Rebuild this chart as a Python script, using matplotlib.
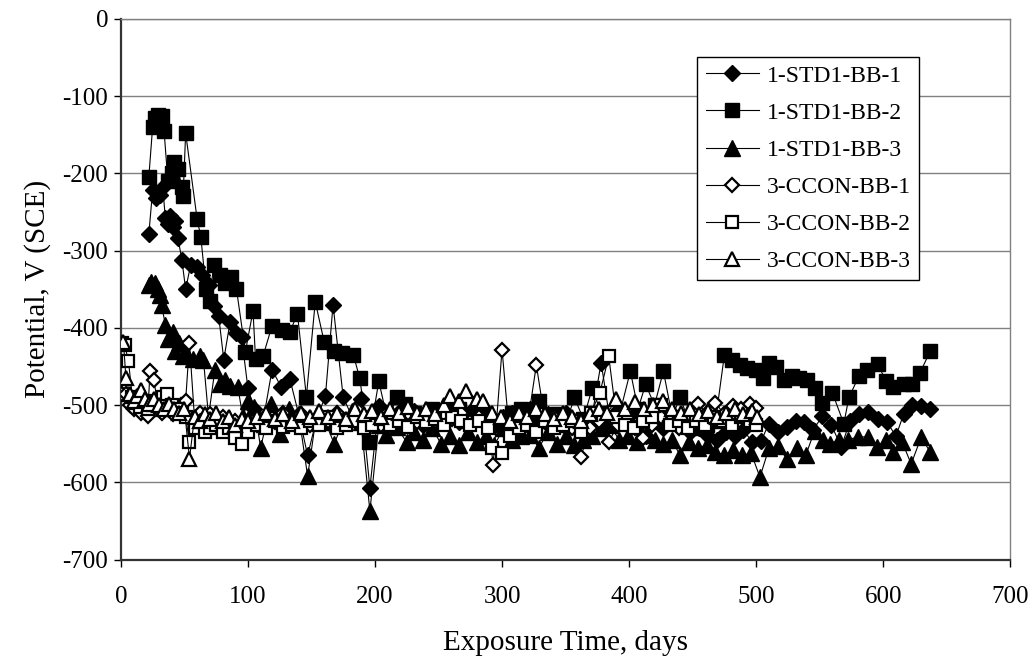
import numpy as np
import matplotlib
matplotlib.use("Agg")
import matplotlib.pyplot as plt

# (day, potential mV)
std1_bb1 = [(22, -279), (25, -222), (28, -232), (31, -228), (33, -218), (35, -258), (37, -265),
            (39, -255), (41, -269), (43, -262), (45, -284), (48, -312), (51, -350), (55, -318),
            (60, -321), (64, -331), (69, -345), (73, -372), (77, -385), (81, -441), (86, -392),
            (91, -407), (95, -412), (100, -478), (105, -505), (112, -520), (119, -454), (126, -476),
            (133, -466), (140, -512), (147, -565), (154, -518), (161, -488), (167, -370), (175, -490),
            (182, -515), (189, -492), (196, -607), (203, -501), (210, -522), (217, -512), (224, -520),
            (231, -508), (238, -525), (245, -515), (252, -520), (259, -505), (266, -522), (273, -512),
            (280, -518), (287, -508), (294, -525), (301, -515), (308, -510), (315, -522), (322, -505),
            (329, -518), (336, -512), (343, -525), (350, -510), (357, -520), (364, -530), (371, -512),
            (378, -445), (385, -520), (392, -505), (399, -515), (406, -528), (413, -540), (420, -520),
            (427, -530), (434, -518), (441, -525), (448, -535), (455, -530), (462, -540), (469, -545),
            (476, -535), (483, -540), (490, -532), (497, -548), (504, -546), (510, -524), (517, -535),
            (524, -528), (531, -520), (538, -522), (545, -532), (552, -514), (559, -525), (567, -554),
            (574, -520), (581, -511), (588, -509), (596, -518), (603, -522), (610, -540), (616, -512),
            (623, -500), (630, -501), (637, -505)]

std1_bb2 = [(22, -205), (25, -140), (27, -128), (29, -125), (32, -126), (34, -145), (37, -210),
            (40, -200), (42, -186), (45, -195), (48, -218), (49, -229), (51, -148), (60, -259),
            (63, -283), (67, -350), (70, -365), (73, -318), (78, -332), (82, -342), (87, -334),
            (91, -350), (98, -431), (104, -378), (106, -440), (112, -436), (119, -397), (127, -403),
            (133, -405), (139, -382), (146, -489), (153, -366), (160, -418), (168, -430), (174, -433),
            (183, -435), (188, -465), (195, -548), (203, -469), (210, -520), (217, -490), (224, -499),
            (231, -510), (238, -515), (245, -505), (252, -515), (259, -510), (266, -505), (273, -520),
            (280, -510), (287, -515), (294, -520), (301, -525), (308, -510), (315, -505), (322, -515),
            (329, -495), (336, -520), (343, -512), (350, -525), (357, -490), (364, -518), (371, -478),
            (378, -510), (385, -520), (392, -515), (401, -456), (407, -505), (413, -473), (420, -500),
            (427, -456), (434, -515), (440, -490), (447, -520), (454, -530), (461, -525), (468, -520),
            (475, -435), (481, -442), (487, -448), (493, -452), (500, -455), (505, -465), (510, -445),
            (516, -450), (522, -468), (528, -462), (534, -465), (540, -467), (546, -478), (552, -497),
            (560, -484), (569, -524), (573, -490), (581, -462), (587, -454), (596, -447), (602, -469),
            (608, -477), (616, -473), (623, -473), (629, -458), (637, -430)]

std1_bb3 = [(22, -345), (24, -340), (27, -342), (29, -350), (31, -357), (32, -370), (35, -396),
            (37, -415), (39, -410), (41, -405), (43, -430), (46, -420), (49, -437), (52, -435),
            (57, -440), (62, -436), (65, -441), (69, -515), (74, -454), (78, -472), (82, -468),
            (86, -475), (92, -476), (96, -515), (100, -495), (105, -502), (110, -555), (118, -498),
            (125, -537), (132, -505), (140, -512), (147, -592), (154, -512), (161, -522), (168, -550),
            (175, -520), (182, -508), (189, -522), (196, -637), (203, -525), (209, -539), (217, -528),
            (225, -548), (231, -535), (238, -545), (245, -530), (252, -550), (259, -540), (266, -552),
            (273, -535), (280, -548), (287, -540), (294, -552), (301, -530), (308, -545), (315, -540),
            (322, -538), (329, -555), (336, -535), (343, -550), (350, -540), (357, -552), (364, -545),
            (371, -540), (378, -530), (385, -525), (392, -545), (399, -540), (406, -548), (413, -538),
            (420, -545), (427, -550), (434, -545), (440, -565), (447, -548), (454, -555), (461, -552),
            (468, -560), (475, -565), (482, -558), (489, -565), (496, -562), (503, -593), (510, -556),
            (517, -553), (524, -569), (532, -556), (539, -565), (546, -533), (553, -545), (558, -550),
            (565, -545), (572, -545), (580, -541), (588, -541), (595, -554), (602, -545), (608, -561),
            (615, -548), (622, -576), (630, -541), (637, -561)]

ccon_bb1 = [(1, -485), (4, -486), (7, -500), (10, -505), (13, -500), (16, -510), (19, -505),
            (21, -514), (23, -456), (26, -467), (29, -500), (32, -510), (35, -505), (38, -498),
            (41, -512), (44, -505), (47, -500), (51, -494), (54, -420), (58, -518), (62, -510),
            (66, -515), (70, -512), (75, -520), (80, -515), (85, -525), (90, -520), (95, -530),
            (100, -520), (107, -525), (114, -515), (121, -522), (128, -510), (135, -520), (142, -512),
            (149, -525), (156, -515), (163, -520), (170, -510), (177, -522), (184, -515), (191, -520),
            (198, -512), (205, -525), (212, -515), (219, -520), (226, -510), (233, -522), (240, -515),
            (247, -520), (254, -512), (261, -518), (268, -510), (275, -522), (282, -515), (289, -520),
            (293, -577), (300, -428), (306, -540), (313, -520), (320, -525), (327, -448), (334, -522),
            (341, -515), (348, -525), (355, -530), (362, -567), (369, -530), (376, -520), (384, -548),
            (391, -525), (398, -515), (405, -530), (411, -543), (418, -525), (425, -515), (432, -520),
            (439, -530), (446, -515), (454, -498), (461, -510), (468, -497), (475, -512), (482, -501),
            (488, -505), (495, -499), (500, -503)]

ccon_bb2 = [(1, -420), (3, -422), (6, -443), (9, -490), (12, -497), (15, -502), (18, -495),
            (21, -505), (25, -500), (29, -495), (33, -490), (36, -486), (40, -500), (44, -505),
            (48, -510), (51, -515), (54, -548), (58, -530), (62, -522), (66, -535), (70, -530),
            (75, -525), (80, -535), (85, -530), (90, -542), (95, -550), (100, -535), (107, -525),
            (114, -530), (121, -520), (128, -528), (135, -525), (142, -530), (149, -520), (156, -525),
            (163, -515), (170, -530), (177, -525), (184, -520), (191, -530), (198, -525), (205, -518),
            (212, -525), (219, -520), (226, -528), (233, -515), (240, -522), (247, -518), (254, -525),
            (261, -515), (268, -520), (275, -525), (282, -520), (289, -530), (292, -556), (300, -562),
            (306, -540), (313, -530), (320, -525), (327, -535), (334, -520), (341, -530), (348, -525),
            (355, -520), (362, -535), (370, -510), (377, -484), (384, -437), (390, -515), (397, -525),
            (404, -530), (411, -520), (418, -515), (425, -500), (432, -525), (439, -520), (446, -530),
            (453, -520), (460, -525), (467, -515), (474, -520), (481, -525), (488, -515), (495, -520),
            (500, -525)]

ccon_bb3 = [(2, -418), (4, -465), (7, -485), (10, -495), (13, -488), (16, -480), (19, -492),
            (22, -498), (26, -492), (30, -500), (34, -505), (38, -498), (42, -505), (46, -510),
            (50, -505), (54, -569), (58, -515), (62, -520), (66, -512), (70, -518), (75, -510),
            (80, -520), (85, -515), (90, -525), (95, -518), (100, -520), (107, -515), (114, -510),
            (121, -518), (128, -512), (135, -520), (142, -510), (149, -515), (156, -508), (163, -515),
            (170, -510), (177, -518), (184, -505), (191, -512), (198, -508), (205, -515), (212, -505),
            (219, -510), (226, -502), (233, -510), (240, -505), (247, -512), (254, -500), (259, -488),
            (266, -495), (272, -482), (280, -492), (285, -494), (292, -510), (299, -515), (306, -520),
            (313, -510), (320, -515), (327, -505), (334, -512), (341, -518), (348, -510), (355, -515),
            (362, -520), (369, -512), (376, -505), (383, -510), (390, -492), (397, -505), (405, -496),
            (412, -505), (419, -500), (427, -494), (434, -505), (441, -510), (448, -505), (455, -512),
            (462, -508), (469, -515), (476, -510), (483, -505), (490, -512), (497, -508), (501, -515)]

series_labels = ["1-STD1-BB-1", "1-STD1-BB-2", "1-STD1-BB-3",
                 "3-CCON-BB-1", "3-CCON-BB-2", "3-CCON-BB-3"]

plt.rcParams['font.family'] = ['Liberation Serif', 'DejaVu Serif']
plt.rcParams['axes.unicode_minus'] = False

fig = plt.figure(figsize=(10.33, 6.68), dpi=100)
ax = fig.add_axes([0.117, 0.162, 0.861, 0.810])

styles = [
    dict(marker='D', ms=8, mfc='black'),
    dict(marker='s', ms=10.5, mfc='black'),
    dict(marker='^', ms=11, mfc='black'),
    dict(marker='D', ms=7.2, mfc='white', mew=1.6),
    dict(marker='s', ms=9.2, mfc='white', mew=1.6),
    dict(marker='^', ms=10, mfc='white', mew=1.6),
]
data = [std1_bb1, std1_bb2, std1_bb3, ccon_bb1, ccon_bb2, ccon_bb3]

for i, (pts, lab, st) in enumerate(zip(data, series_labels, styles)):
    d = np.array(pts)
    ax.plot(d[:, 0], d[:, 1], color='black', lw=0.8, mec='black',
            label=lab, zorder=3 + i, **st)

ax.set_xlim(0, 700)
ax.set_ylim(-700, 0)
ax.set_xticks(range(0, 701, 100))
ax.set_yticks(range(-700, 1, 100))
ax.yaxis.grid(True, color='#808080', lw=1.0)
ax.set_axisbelow(True)

for s in ['top', 'right']:
    ax.spines[s].set_color('#808080')
    ax.spines[s].set_linewidth(1.0)
for s in ['left', 'bottom']:
    ax.spines[s].set_color('#333333')
    ax.spines[s].set_linewidth(1.6)

ax.tick_params(direction='out', length=5, width=1, labelsize=18, pad=4, colors='black')
ax.tick_params(axis='x', pad=14)

ax.set_xlabel("Exposure Time, days", fontsize=21, labelpad=16)
ax.set_ylabel("Potential, V (SCE)", fontsize=21, labelpad=8)

leg = ax.legend(loc='upper left', bbox_to_anchor=(0.675, 0.915), bbox_transform=fig.transFigure,
                borderaxespad=0, fontsize=17, fancybox=False, framealpha=1, edgecolor='black',
                handlelength=2.25, handletextpad=0.35, borderpad=0.35, labelspacing=0.66)
leg.get_frame().set_linewidth(1.0)
leg.set_zorder(20)

fig.savefig("out.png", dpi=100)
